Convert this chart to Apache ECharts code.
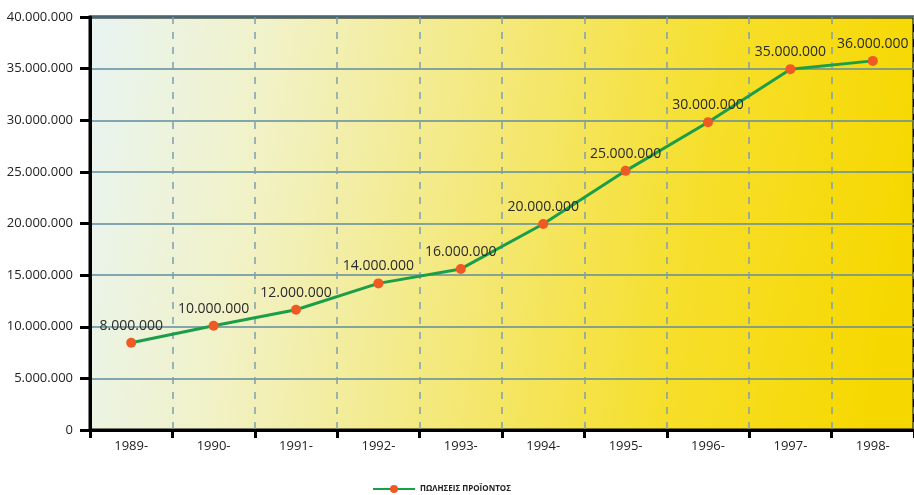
<!DOCTYPE html>
<html>
<head>
<meta charset="utf-8">
<script src="https://cdn.jsdelivr.net/npm/echarts@6/dist/echarts.min.js"></script>
<style>html,body{margin:0;padding:0;background:#fff}#c{width:914px;height:495px}</style>
</head>
<body>
<div id="c"></div>
<script>
var categories = ['1989-', '1990-', '1991-', '1992-', '1993-', '1994-', '1995-', '1996-', '1997-', '1998-'];
var sales = [8450000, 10100000, 11650000, 14200000, 15600000, 19950000, 25100000, 29800000, 34950000, 35750000];
var pointLabels = ['8.000.000', '10.000.000', '12.000.000', '14.000.000', '16.000.000', '20.000.000', '25.000.000', '30.000.000', '35.000.000', '36.000.000'];
var seriesName = 'ΠΩΛΗΣΕΙΣ ΠΡΟΪΟΝΤΟΣ';
var yMin = 0, yMax = 40000000, yStep = 5000000;

function dots(v) { return String(v).replace(/\B(?=(\d{3})+(?!\d))/g, '.'); }

var chart = echarts.init(document.getElementById('c'));
chart.setOption({
  animation: false,
  textStyle: { fontFamily: 'Open Sans' },
  grid: {
    left: 90, top: 17, right: -8, bottom: 65,
    show: true,
    borderColor: '#000', borderWidth: 3,
    backgroundColor: new echarts.graphic.LinearGradient(0, 0, 1, 0.35, [
      { offset: 0, color: '#e8f4f3' },
      { offset: 0.22, color: '#f1f2c8' },
      { offset: 0.5, color: '#f4e878' },
      { offset: 0.75, color: '#f6df2c' },
      { offset: 1, color: '#f6d800' }
    ])
  },
  legend: {
    bottom: -3, left: 367,
    itemWidth: 42, itemHeight: 10, itemGap: 8,
    textStyle: { fontSize: 8, fontWeight: 'bold', color: '#222' },
    data: [seriesName]
  },
  xAxis: {
    type: 'category', data: categories, boundaryGap: true,
    axisLine: { lineStyle: { color: '#000', width: 3 } },
    axisTick: { show: true, length: 8, lineStyle: { color: '#000', width: 3 } },
    axisLabel: { color: '#222', fontSize: 13, margin: 10 },
    splitLine: { show: true, lineStyle: { color: '#7f9fae', width: 1.5, type: [7, 8] } }
  },
  yAxis: {
    type: 'value', min: yMin, max: yMax, interval: yStep,
    axisLine: { show: true, lineStyle: { color: '#000', width: 3 } },
    axisTick: { show: true, length: 10, lineStyle: { color: '#000', width: 3 } },
    axisLabel: { color: '#222', fontSize: 13, margin: 17, formatter: dots },
    splitLine: { lineStyle: { color: '#5f8c9f', width: 1.5 } }
  },
  series: [{
    name: seriesName, type: 'line', data: sales,
    symbol: 'circle', symbolSize: 10,
    itemStyle: { color: '#ef5a24' },
    lineStyle: { color: '#1a9e4a', width: 3 },
    label: {
      show: true, position: 'top', distance: 5,
      color: '#2a2a2a', fontSize: 14,
      formatter: function (p) { return pointLabels[p.dataIndex]; }
    }
  }]
});
</script>
</body>
</html>
